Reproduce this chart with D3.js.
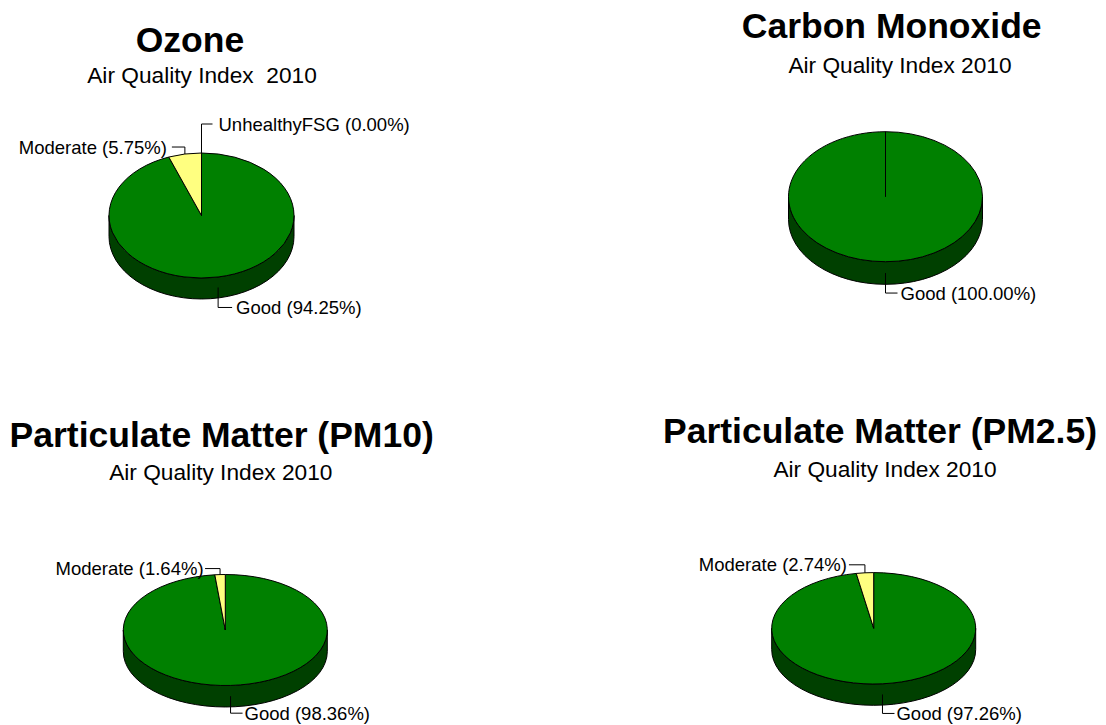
<!DOCTYPE html>
<html>
<head>
<meta charset="utf-8">
<script src="https://cdn.jsdelivr.net/npm/d3@7"></script>
<style>
  html, body { margin: 0; padding: 0; background: #ffffff; }
  svg { display: block; font-family: "Liberation Sans", Arial, sans-serif; }
</style>
</head>
<body>
<svg id="chart" width="1106" height="725"></svg>
<script>
// AQI category names and colours
const categories = ["Good", "Moderate", "UnhealthyFSG"];
const topColors = ["#008000", "#ffff80", "#ff8000"];
const sideColors = ["#004000", "#808040", "#804000"];

// Share of days (%) in each category, per pollutant
const ozoneValues = [94.25, 5.75, 0.00];
const coValues = [100.00];
const pm10Values = [98.36, 1.64];
const pm25Values = [97.26, 2.74];

const titles = ["Ozone", "Carbon Monoxide", "Particulate Matter (PM10)", "Particulate Matter (PM2.5)"];
const subtitles = ["Air Quality Index  2010", "Air Quality Index 2010", "Air Quality Index 2010", "Air Quality Index 2010"];

// Panel geometry: tilted pie ellipse, title placement and leader-line offsets
const panels = [
  { values: ozoneValues, cx: 201.5, cy: 215.5, rx: 92.5, ry: 62.5, depth: 21,
    title: { x: 190, y: 52 }, sub: { x: 202, y: 83 },
    leaders: [ { dy: 20, dx: 14, gap: 4 }, { dy: -7, dx: -13, gap: 5 }, { dy: -29, dx: 11, gap: 6 } ] },
  { values: coValues, cx: 885.5, cy: 196.7, rx: 97, ry: 65, depth: 22.7,
    title: { x: 891.7, y: 38.3 }, sub: { x: 900, y: 73.3 },
    leaders: [ { dy: 20, dx: 12, gap: 3 } ] },
  { values: pm10Values, cx: 225.3, cy: 630, rx: 102, ry: 55.5, depth: 21.5,
    title: { x: 221.7, y: 447.3 }, sub: { x: 220.8, y: 480 },
    leaders: [ { dy: 17, dx: 12, gap: 2 }, { dy: -6, dx: -15, gap: 1.5 } ] },
  { values: pm25Values, cx: 873.7, cy: 628.3, rx: 102, ry: 55.7, depth: 21.3,
    title: { x: 880, y: 443.3 }, sub: { x: 885, y: 476.7 },
    leaders: [ { dy: 19, dx: 12, gap: 2 }, { dy: -8, dx: -16, gap: 2 } ] }
];

const svg = d3.select("#chart");
const pie = d3.pie().sort(null).value(d => d).startAngle(0).endAngle(2 * Math.PI);

panels.forEach((p, i) => {
  const g = svg.append("g");

  // Angle measured clockwise from 12 o'clock, projected onto the tilted ellipse
  const pt = (a, dz = 0) => [p.cx + p.rx * Math.sin(a), p.cy - p.ry * Math.cos(a) + dz];

  // Elliptical arc from a0 to a1, split into pieces no larger than a half turn
  function arcTo(path, a0, a1, dz, sweep) {
    const n = Math.max(1, Math.ceil(Math.abs(a1 - a0) / Math.PI));
    for (let k = 1; k <= n; k++) {
      const a = a0 + (a1 - a0) * k / n;
      const [x, y] = pt(a, dz);
      path.push(`A${p.rx},${p.ry} 0 0 ${sweep} ${x},${y}`);
    }
  }

  const arcs = pie(p.values);

  // Visible rim (front half of the cylinder)
  arcs.forEach((d, j) => {
    const s = Math.max(d.startAngle, Math.PI / 2);
    const e = Math.min(d.endAngle, 3 * Math.PI / 2);
    if (e <= s) return;
    const path = [];
    const [x0, y0] = pt(s);
    path.push(`M${x0},${y0}`);
    arcTo(path, s, e, 0, 1);
    const [x1, y1] = pt(e, p.depth);
    path.push(`L${x1},${y1}`);
    arcTo(path, e, s, p.depth, 0);
    path.push("Z");
    g.append("path")
      .attr("d", path.join(""))
      .attr("fill", sideColors[j])
      .attr("stroke", "#000")
      .attr("stroke-width", 1)
      .attr("stroke-linejoin", "round");
  });

  // Top face slices
  arcs.forEach((d, j) => {
    const path = [`M${p.cx},${p.cy}`];
    const [x0, y0] = pt(d.startAngle);
    path.push(`L${x0},${y0}`);
    if (d.endAngle > d.startAngle) arcTo(path, d.startAngle, d.endAngle, 0, 1);
    path.push("Z");
    g.append("path")
      .attr("d", path.join(""))
      .attr("fill", topColors[j])
      .attr("stroke", "#000")
      .attr("stroke-width", 1)
      .attr("stroke-linejoin", "round");
  });

  // Category labels with elbow leader lines
  arcs.forEach((d, j) => {
    const L = p.leaders[j];
    const m = (d.startAngle + d.endAngle) / 2;
    const front = Math.cos(m) < 0;
    const [ax, ay] = pt(m, front ? p.depth / 2 : 0);
    const ly = ay + L.dy;
    const lx = ax + L.dx;
    g.append("path")
      .attr("d", `M${ax},${ay}V${ly}H${lx}`)
      .attr("fill", "none")
      .attr("stroke", "#000")
      .attr("stroke-width", 1);
    g.append("text")
      .attr("x", lx + Math.sign(L.dx) * L.gap)
      .attr("y", ly)
      .attr("dy", "0.36em")
      .attr("text-anchor", L.dx < 0 ? "end" : "start")
      .attr("font-size", 18.5)
      .attr("fill", "#000")
      .text(`${categories[j]} (${d.data.toFixed(2)}%)`);
  });

  // Titles
  g.append("text")
    .attr("x", p.title.x).attr("y", p.title.y)
    .attr("text-anchor", "middle")
    .attr("font-size", 35.5)
    .attr("font-weight", "bold")
    .attr("fill", "#000")
    .text(titles[i]);
  g.append("text")
    .attr("x", p.sub.x).attr("y", p.sub.y)
    .attr("text-anchor", "middle")
    .attr("font-size", 22.7)
    .attr("fill", "#000")
    .style("white-space", "pre")
    .text(subtitles[i]);
});
</script>
</body>
</html>
